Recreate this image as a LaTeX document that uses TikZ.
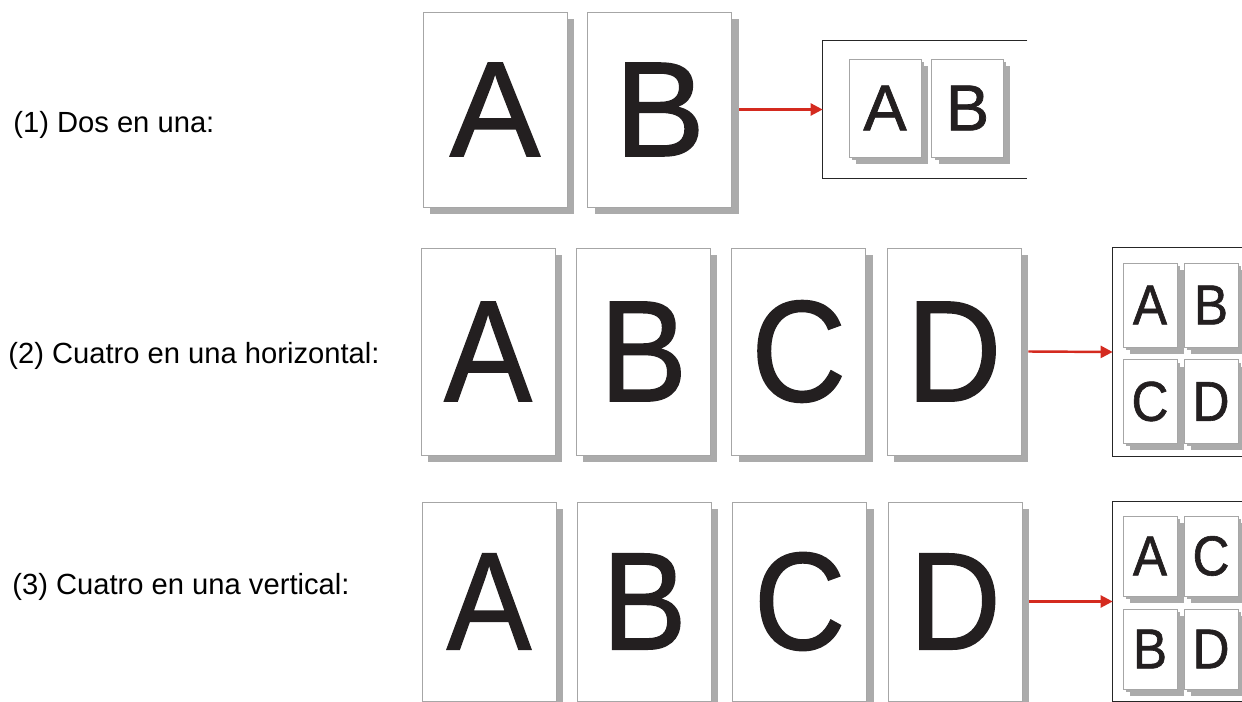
\documentclass[tikz,border=0pt]{standalone}
\usepackage{fontspec}
\setmainfont{Liberation Sans}
\newfontfamily\bigsans[FakeBold=1.1]{Liberation Sans}
\newfontfamily\narrowsans[FakeStretch=0.91,FakeBold=1.1]{Liberation Sans}
\usepackage{xcolor}
\usetikzlibrary{arrows.meta,positioning,shadows}
\definecolor{ink}{HTML}{231F20}
\definecolor{flowred}{HTML}{D42A1F}

\begin{document}
\begin{tikzpicture}[
  x=0.02cm, y=-0.02cm,
  >={Triangle[length=0.24cm,width=0.24cm]},
  node distance=0.41cm,
  srcpage/.style={draw=black!35,line width=0.5pt,fill=white,inner sep=0pt,text=ink,
    general shadow={fill=black!33,shadow xshift=0.14cm,shadow yshift=-0.14cm}},
  pg1/.style={srcpage,minimum width=2.88cm,minimum height=3.9cm,font=\bigsans\fontsize{77}{77}\selectfont},
  pg2/.style={srcpage,minimum width=2.68cm,minimum height=4.14cm,font=\narrowsans\fontsize{82}{82}\selectfont},
  pg3/.style={srcpage,minimum width=2.68cm,minimum height=3.98cm,font=\narrowsans\fontsize{79}{79}\selectfont},
  thumb/.style={srcpage,general shadow={fill=black!33,shadow xshift=0.06cm,shadow yshift=-0.06cm}},
  thumb1/.style={thumb,minimum width=1.44cm,minimum height=1.96cm,font=\bigsans\fontsize{37}{37}\selectfont},
  thumb2/.style={thumb,minimum width=1.08cm,minimum height=1.68cm,font=\narrowsans\fontsize{32}{32}\selectfont},
  thumb3/.style={thumb2,minimum height=1.6cm},
  sheet/.style={inner sep=0pt},
  frame/.style={draw=black!85,line width=0.7pt},
  flow/.style={draw=flowred,fill=flowred,line width=1.4pt},
  lbl/.style={anchor=base west,inner sep=0pt,font=\fontsize{16.6}{20}\selectfont}
]
  \useasboundingbox (0,0) rectangle (1242,702);

  % (1) dos en una
  \node[lbl] (t1) at (13,133) {(1) Dos en una:};
  \node[pg1] (p1A) at (495,109.5) {A};
  \node[pg1,right=0.4cm of p1A] (p1B) {B};
  \node[sheet,minimum width=4.08cm,minimum height=2.74cm] (o1) at (925,109.5) {};
  \draw[frame] (o1.north east) -- (o1.north west) -- (o1.south west) -- (o1.south east);
  \foreach \l/\px in {A/885,B/967.5}
    \node[thumb1] (m1\l) at (\px,108) {\l};
  \draw[->,flow] ([xshift=0.14cm]p1B.east) -- (o1.west);

  % (2) cuatro en una horizontal
  \node[lbl] (t2) at (8,364) {(2) Cuatro en una horizontal:};
  \node[pg2] (p2A) at (488,351.5) {A};
  \foreach \a/\b in {A/B,B/C,C/D}
    \node[pg2,right=of p2\a] (p2\b) {\b};
  \node[sheet,minimum width=2.58cm,minimum height=4.16cm] (o2) at (1177.5,352) {};
  \draw[frame] (o2.north east) -- (o2.north west) -- (o2.south west) -- (o2.south east);
  \foreach \l/\px/\py in {A/1150/305,B/1211/305,C/1150/401.5,D/1211/401.5}
    \node[thumb2] (m2\l) at (\px,\py) {\l};
  \draw[->,flow] ([xshift=0.14cm]p2D.east) -- (o2.west);

  % (3) cuatro en una vertical
  \node[lbl] (t3) at (12,595) {(3) Cuatro en una vertical:};
  \node[pg3] (p3A) at (489,601.5) {A};
  \foreach \a/\b in {A/B,B/C,C/D}
    \node[pg3,right=of p3\a] (p3\b) {\b};
  \node[sheet,minimum width=2.58cm,minimum height=3.98cm] (o3) at (1177.5,601.5) {};
  \draw[frame] (o3.north east) -- (o3.north west) -- (o3.south west) -- (o3.south east);
  \foreach \l/\px/\py in {A/1150/556,C/1211/556,B/1150/649,D/1211/649}
    \node[thumb3] (m3\l) at (\px,\py) {\l};
  \draw[->,flow] ([xshift=0.14cm]p3D.east) -- (o3.west);
\end{tikzpicture}
\end{document}
